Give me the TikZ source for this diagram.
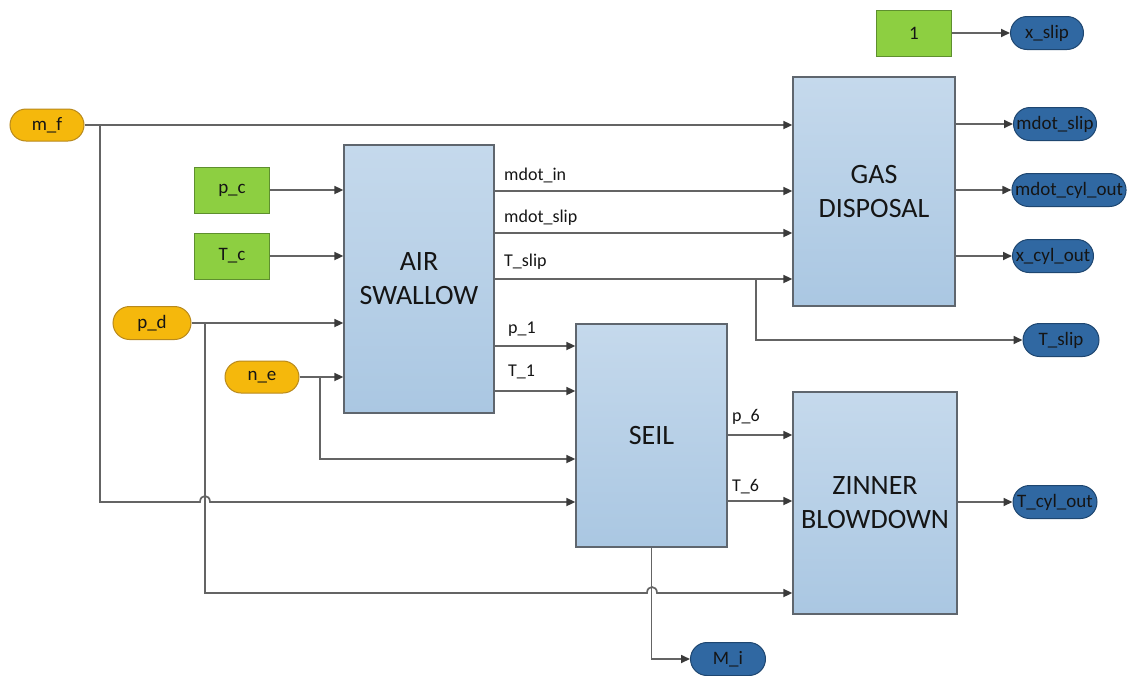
\documentclass[tikz,border=0pt]{standalone}
\usepackage{fontspec}
\setmainfont{Carlito}
\usetikzlibrary{arrows.meta,shapes.misc,calc}
\definecolor{orfill}{HTML}{F5B80C}
\definecolor{ordraw}{HTML}{B8891C}
\definecolor{grfill}{HTML}{8DCF41}
\definecolor{grdraw}{HTML}{5E8F2E}
\definecolor{blfill}{HTML}{3068A2}
\definecolor{bldraw}{HTML}{1E4670}
\definecolor{bktop}{HTML}{C5D9EC}
\definecolor{bkbot}{HTML}{AAC7E2}
\definecolor{bkdraw}{HTML}{5F666E}
\definecolor{lncol}{HTML}{646464}
\definecolor{tipcol}{HTML}{3A3A3A}
\definecolor{txtcol}{HTML}{151515}
\begin{document}
\begin{tikzpicture}[x=1pt,y=-1pt,
  pillin/.style={rounded rectangle, draw=ordraw, fill=orfill, line width=1pt, minimum height=32pt, inner sep=1pt, text=txtcol, font=\fontsize{19}{21}\selectfont},
  pillout/.style={rounded rectangle, draw=bldraw, fill=blfill, line width=1pt, minimum height=33pt, inner sep=1pt, text=txtcol, font=\fontsize{19}{21}\selectfont},
  const/.style={rectangle, draw=grdraw, fill=grfill, line width=1pt, minimum width=75pt, minimum height=46pt, text=txtcol, font=\fontsize{19}{21}\selectfont},
  block/.style={rectangle, draw=bkdraw, top color=bktop, bottom color=bkbot, line width=1.3pt, align=center, text=txtcol, font=\fontsize{28}{34}\selectfont},
  wire/.style={draw=lncol, line width=1.7pt},
  arr/.style={wire, -{Triangle[length=9pt,width=8pt,fill=tipcol,color=tipcol]}},
  lbl/.style={anchor=west, inner sep=0pt, text=txtcol, font=\fontsize{18}{20}\selectfont}
]
\useasboundingbox (0,0) rectangle (1129,675);

% blocks
\node[block, minimum width=150pt, minimum height=268pt] (air) at (419,279) {AIR\\SWALLOW};
\node[block, minimum width=151pt, minimum height=223pt] (seil) at (651.5,435.5) {SEIL};
\node[block, minimum width=162pt, minimum height=229pt] (gas) at (874,191.5) {GAS\\DISPOSAL};
\node[block, minimum width=164pt, minimum height=222pt] (zin) at (875,503) {ZINNER\\BLOWDOWN};

% inputs
\node[pillin, minimum width=76pt] (mf) at (47,125) {m\_f};
\node[pillin, minimum width=80pt, minimum height=33pt] (pd) at (152,323) {p\_d};
\node[pillin, minimum width=76pt] (ne) at (262,377) {n\_e};
\node[const] (pc) at (232,190) {p\_c};
\node[const] (tc) at (232,256) {T\_c};
\node[const] (one) at (914,33) {1};

% outputs
\node[pillout, minimum width=75pt] (xslip) at (1047,33) {x\_slip};
\node[pillout, minimum width=85pt] (mdotslip) at (1055,124) {mdot\_slip};
\node[pillout, minimum width=114pt] (mdotcyl) at (1069,190) {mdot\_cyl\_out};
\node[pillout, minimum width=83pt] (xcyl) at (1053,256) {x\_cyl\_out};
\node[pillout, minimum width=78pt] (tslip) at (1061,340) {T\_slip};
\node[pillout, minimum width=86pt] (tcyl) at (1055,502) {T\_cyl\_out};
\node[pillout, minimum width=77pt] (mi) at (728,659) {M\_i};

% branch points
\coordinate (mfb) at (100,125);
\coordinate (pdb) at (205,323);
\coordinate (neb) at (320,377);
\coordinate (tsb) at (756,279);

% connectors
\draw[arr] (one) -- (xslip);
\draw[arr] (mf.east) -- (mf.east -| gas.west);
\draw[arr] (pc.east) -- (pc.east -| air.west);
\draw[arr] (tc.east) -- (tc.east -| air.west);
\draw[arr] (pd.east) -- (pd.east -| air.west);
\draw[arr] (ne.east) -- (ne.east -| air.west);

\draw[arr] (mfb) -- (100,502) -- (200,502) .. controls (200,494) and (210,494) .. (210,502) -- (seil.west |- 0,502);
\draw[arr] (pdb) -- (205,593) -- (647,593) .. controls (647,585) and (657,585) .. (657,593) -- (zin.west |- 0,593);
\draw[arr] (neb) |- (seil.west |- 0,459);

\draw[arr] (air.east |- 0,191) -- (gas.west |- 0,191);
\draw[arr] (air.east |- 0,233) -- (gas.west |- 0,233);
\draw[arr] (air.east |- 0,279) -- (gas.west |- 0,279);
\draw[arr] (tsb) |- (tslip.west);
\draw[arr] (air.east |- 0,346) -- (seil.west |- 0,346);
\draw[arr] (air.east |- 0,391) -- (seil.west |- 0,391);

\draw[arr] (seil.east |- 0,435) -- (zin.west |- 0,435);
\draw[arr] (seil.east |- 0,501) -- (zin.west |- 0,501);
\draw[arr] (seil.south) |- (mi.west);

\draw[arr] (gas.east |- mdotslip) -- (mdotslip.west);
\draw[arr] (gas.east |- mdotcyl) -- (mdotcyl.west);
\draw[arr] (gas.east |- xcyl) -- (xcyl.west);
\draw[arr] (zin.east |- tcyl) -- (tcyl.west);

% wire labels
\node[lbl] at (504,175) {mdot\_in};
\node[lbl] at (504,218) {mdot\_slip};
\node[lbl] at (504,262) {T\_slip};
\node[lbl] at (508,329) {p\_1};
\node[lbl] at (508,372) {T\_1};
\node[lbl] at (732,417) {p\_6};
\node[lbl] at (732,487) {T\_6};
\end{tikzpicture}
\end{document}
